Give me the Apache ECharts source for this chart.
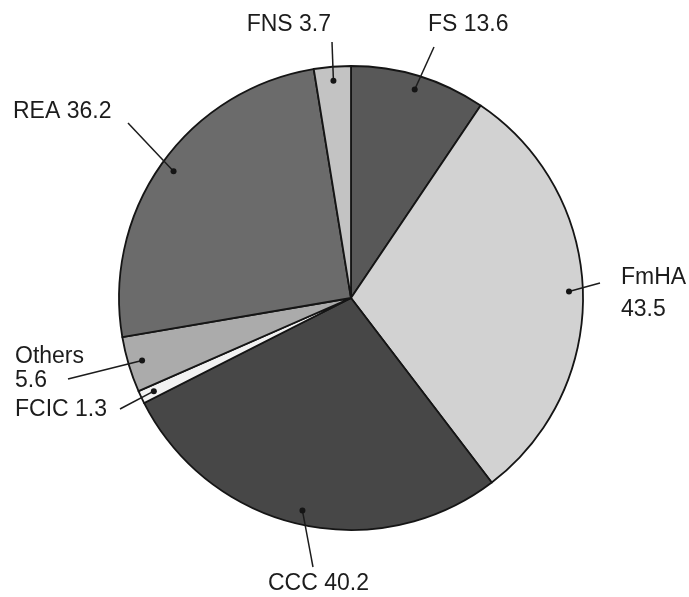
<!DOCTYPE html>
<html>
<head>
<meta charset="utf-8">
<script src="https://cdn.jsdelivr.net/npm/echarts@6/dist/echarts.min.js"></script>
<style>
  html, body { margin: 0; padding: 0; background: #fff; }
  #main { width: 689px; height: 597px; }
</style>
</head>
<body>
<div id="main"></div>
<script>
// data, clockwise from 12 o'clock
var agencies = ['FS', 'FmHA', 'CCC', 'FCIC', 'Others', 'REA', 'FNS'];
var amounts = [13.6, 43.5, 40.2, 1.3, 5.6, 36.2, 3.7];
var shades = ['#585858', '#d2d2d2', '#474747', '#f2f2f2', '#ababab', '#6b6b6b', '#c3c3c3'];
var twoLine = ['FmHA', 'Others'];

// where the labels sit and where their leader lines stop
var labelPos = {
    FS:     { x: 428, y: 25,  align: 'left',  end: [434, 47],  lh: 26 },
    FmHA:   { x: 621, y: 294, align: 'left',  end: [600, 283], lh: 32 },
    CCC:    { x: 268, y: 584, align: 'left',  end: [313, 567], lh: 26 },
    FCIC:   { x: 15,  y: 410, align: 'left',  end: [120, 409], lh: 26 },
    Others: { x: 15,  y: 369, align: 'left',  end: [68, 379],  lh: 24 },
    REA:    { x: 13,  y: 112, align: 'left',  end: [128, 123], lh: 26 },
    FNS:    { x: 331, y: 25,  align: 'right', end: [332, 42],  lh: 26 }
};

var cx = 351, cy = 298, R = 232;

var myChart = echarts.init(document.getElementById('main'));

// dot inside each slice, on its middle angle
var total = amounts.reduce(function (a, b) { return a + b; }, 0);
var acc = 0;
var dots = amounts.map(function (v) {
    var mid = (acc + v / 2) / total * 2 * Math.PI;
    acc += v;
    return [cx + 0.94 * R * Math.sin(mid), cy - 0.94 * R * Math.cos(mid)];
});

var pieData = agencies.map(function (name, i) {
    return {
        name: name,
        value: amounts[i],
        itemStyle: { color: shades[i] },
        label: { lineHeight: labelPos[name].lh }
    };
});

// leader lines + dots on top of the slices
var marks = [];
agencies.forEach(function (name, i) {
    marks.push({
        type: 'polyline',
        z: 100,
        shape: { points: [dots[i], labelPos[name].end] },
        style: { stroke: '#1c1c1c', lineWidth: 1.5, fill: null }
    });
    marks.push({
        type: 'circle',
        z: 101,
        shape: { cx: dots[i][0], cy: dots[i][1], r: 3 },
        style: { fill: '#151515' }
    });
});

var option = {
    animation: false,
    backgroundColor: '#fff',
    series: [
        {
            type: 'pie',
            center: [cx, cy],
            radius: R,
            startAngle: 90,
            clockwise: true,
            avoidLabelOverlap: false,
            data: pieData,
            itemStyle: { borderColor: '#151515', borderWidth: 1.8 },
            label: {
                show: true,
                position: 'outside',
                fontFamily: 'Liberation Sans',
                fontSize: 23,
                color: '#1c1c1c',
                formatter: function (p) {
                    return twoLine.indexOf(p.name) >= 0 ? p.name + '\n' + p.value : p.name + ' ' + p.value;
                }
            },
            labelLine: { show: false },
            labelLayout: function (params) {
                var p = labelPos[agencies[params.dataIndex]];
                return { x: p.x, y: p.y, align: p.align, verticalAlign: 'middle' };
            }
        }
    ],
    graphic: marks
};

if (option && typeof option === "object") {
    myChart.setOption(option, true);
}
</script>
</body>
</html>
